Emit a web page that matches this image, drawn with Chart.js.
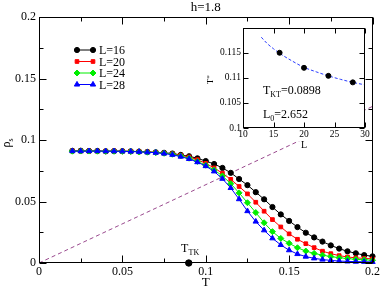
<!DOCTYPE html>
<html><head><meta charset="utf-8">
<script src="https://cdn.jsdelivr.net/npm/chart.js@4.4.1/dist/chart.umd.min.js"></script>
<style>
html,body{margin:0;padding:0;background:#fff;}
#wrap{position:relative;width:382px;height:288px;overflow:hidden;}
#main{position:absolute;left:0;top:0;}
#inset{position:absolute;left:200px;top:20px;}
</style></head><body>
<div id="wrap">
<canvas id="main" width="382" height="288"></canvas>
<canvas id="inset" width="172" height="132"></canvas>
</div>
<script>
// ---------- data (main panel) ----------
const temps = [0.02,0.025,0.03,0.035,0.04,0.045,0.05,0.055,0.06,0.065,0.07,0.075,0.08,0.085,0.09,0.095,0.1,0.105,0.11,0.115,0.12,0.125,0.13,0.135,0.14,0.145,0.15,0.155,0.16,0.165,0.17,0.175,0.18,0.185,0.19,0.195,0.2];
const rhoL16 = [0.0912,0.0913,0.0911,0.0911,0.0908,0.0910,0.0909,0.0908,0.0906,0.0903,0.0900,0.0896,0.0890,0.0879,0.0868,0.0851,0.0829,0.0805,0.0773,0.0733,0.0683,0.0633,0.0576,0.0518,0.0455,0.0395,0.0342,0.0292,0.0246,0.0208,0.0174,0.0143,0.0117,0.0095,0.0079,0.0064,0.0054];
const rhoL20 = [0.0911,0.0910,0.0911,0.0909,0.0910,0.0911,0.0909,0.0908,0.0905,0.0903,0.0899,0.0894,0.0887,0.0876,0.0862,0.0840,0.0810,0.0773,0.0730,0.0680,0.0622,0.0562,0.0494,0.0421,0.0353,0.0293,0.0237,0.0193,0.0157,0.0125,0.0096,0.0076,0.0060,0.0049,0.0042,0.0037,0.0034];
const rhoL24 = [0.0909,0.0910,0.0910,0.0909,0.0909,0.0908,0.0908,0.0907,0.0904,0.0901,0.0898,0.0892,0.0884,0.0870,0.0852,0.0826,0.0795,0.0757,0.0708,0.0645,0.0570,0.0490,0.0410,0.0327,0.0255,0.0200,0.0160,0.0124,0.0097,0.0078,0.0064,0.0052,0.0043,0.0036,0.0030,0.0026,0.0022];
const rhoL28 = [0.0910,0.0909,0.0910,0.0910,0.0909,0.0909,0.0908,0.0906,0.0904,0.0900,0.0897,0.0890,0.0880,0.0865,0.0846,0.0820,0.0788,0.0745,0.0685,0.0610,0.0519,0.0422,0.0337,0.0266,0.0201,0.0147,0.0104,0.0073,0.0052,0.0038,0.0028,0.0021,0.0016,0.0013,0.0011,0.0010,0.0009];
const seriesNames = ['L=16','L=20','L=24','L=28'];
const refLineT = [0, 0.2];
const refLineRho = [0, 0.1273];
const tktValue = [0.0898];
const tktRho = [0];
const xTickVals = [0,0.05,0.1,0.15,0.2];
const xTickLabels = ['0','0.05','0.1','0.15','0.2'];
const yTickVals = [0,0.05,0.1,0.15,0.2];
const yTickLabels = ['0','0.05','0.1','0.15','0.2'];

// ---------- data (inset) ----------
const sizesL = [16,20,24,28];
const tStar = [0.1150,0.1120,0.1104,0.1091];
const fitL = [13,14,15,16,18,20,22,24,26,28,30];
const fitT = [0.1181,0.1168,0.1158,0.1149,0.1134,0.1121,0.1112,0.1104,0.1097,0.1091,0.1086];
const insetXTickVals = [10,15,20,25,30];
const insetXTickLabels = ['10','15','20','25','30'];
const insetYTickVals = [0.1,0.105,0.11,0.115,0.12];
const insetYTickLabels = ['0.1','0.105','0.11','0.115',''];

const SERIF = "'Liberation Serif','DejaVu Serif','Times New Roman',serif";
const pts = (xs, ys) => xs.map((x, i) => ({x: x, y: ys[i]}));

function frameAndTicks(chart, xMaj, yMaj, minor, majLen, minLen) {
  const ctx = chart.ctx, ca = chart.chartArea;
  const xs = chart.scales.x, ys = chart.scales.y;
  const L = Math.round(ca.left) + 0.5, R = Math.round(ca.right) - 0.5;
  const T = Math.round(ca.top) + 0.5, B = Math.round(ca.bottom) - 0.5;
  ctx.save();
  ctx.strokeStyle = '#000'; ctx.lineWidth = 1;
  ctx.strokeRect(L, T, R - L, B - T);
  ctx.beginPath();
  const drawX = (v, len) => {
    const p = Math.round(xs.getPixelForValue(v)) + 0.5;
    ctx.moveTo(p, B); ctx.lineTo(p, B - len);
    ctx.moveTo(p, T); ctx.lineTo(p, T + len);
  };
  const drawY = (v, len) => {
    const p = Math.round(ys.getPixelForValue(v)) + 0.5;
    ctx.moveTo(L, p); ctx.lineTo(L + len, p);
    ctx.moveTo(R, p); ctx.lineTo(R - len, p);
  };
  xMaj.forEach(v => drawX(v, majLen));
  yMaj.forEach(v => drawY(v, majLen));
  if (minor) {
    for (let i = 0; i < xMaj.length - 1; i++) drawX((xMaj[i] + xMaj[i+1]) / 2, minLen);
    for (let i = 0; i < yMaj.length - 1; i++) drawY((yMaj[i] + yMaj[i+1]) / 2, minLen);
  }
  ctx.stroke();
  ctx.restore();
}

const mainDecor = {
  id: 'mainDecor',
  afterDraw(chart) {
    const ctx = chart.ctx, ca = chart.chartArea;
    frameAndTicks(chart, xTickVals, yTickVals, true, 7, 4);
    ctx.save();
    ctx.fillStyle = '#000';
    ctx.font = '13px ' + SERIF; ctx.textAlign = 'center'; ctx.textBaseline = 'alphabetic';
    ctx.fillText('h=1.8', (ca.left + ca.right) / 2, 11);
    ctx.fillText('T', (ca.left + ca.right) / 2, 286);
    ctx.save();
    ctx.translate(7, 144);
    ctx.rotate(-Math.PI / 2);
    ctx.textBaseline = 'middle';
    ctx.font = '12px ' + SERIF; ctx.textAlign = 'right';
    ctx.fillText('ρ', 2.5, 0);
    ctx.font = '8px ' + SERIF; ctx.textAlign = 'left';
    ctx.fillText('s', 2.5, 4);
    ctx.restore();
    ctx.textAlign = 'left'; ctx.textBaseline = 'alphabetic';
    ctx.font = '12px ' + SERIF;
    ctx.fillText('T', 181, 252);
    ctx.font = '8px ' + SERIF;
    ctx.fillText('TK', 188.5, 255);
    const rows = [50, 61.5, 73, 84.5];
    chart.data.datasets.slice(0, 4).forEach((ds, i) => {
      const y = rows[i];
      ctx.strokeStyle = ds.borderColor; ctx.fillStyle = ds.backgroundColor; ctx.lineWidth = 1;
      ctx.beginPath(); ctx.moveTo(77, y); ctx.lineTo(93, y); ctx.stroke();
      [77, 93].forEach(px => Chart.helpers.drawPoint(ctx, {pointStyle: ds.pointStyle, radius: ds.pointRadius, rotation: 0, borderWidth: 1}, px, y));
      ctx.fillStyle = '#000';
      ctx.font = '12px ' + SERIF;
      ctx.fillText(seriesNames[i], 99, y + 4);
    });
    ctx.restore();
  }
};

const colors = ['#000000', '#ff0000', '#00ee00', '#0000ff'];
const styles = ['circle', 'rect', 'rectRot', 'triangle'];
const radii = [2.6, 2.6, 3, 3.1];
const series = [rhoL16, rhoL20, rhoL24, rhoL28];

const mainDatasets = series.map((s, i) => ({
  label: seriesNames[i],
  data: pts(temps, s),
  borderColor: colors[i], backgroundColor: colors[i],
  borderWidth: 1, pointStyle: styles[i], pointRadius: radii[i],
  pointBorderWidth: 1, pointHoverRadius: radii[i], tension: 0,
  clip: false, order: 4 - i
}));
mainDatasets.push({
  label: 'ref', data: pts(refLineT, refLineRho),
  borderColor: '#9a4a8e', borderWidth: 1, borderDash: [4, 3],
  pointRadius: 0, order: 10
});
mainDatasets.push({
  label: 'tkt', data: pts(tktValue, tktRho), showLine: false,
  borderColor: '#000', backgroundColor: '#000', pointStyle: 'circle', pointRadius: 3.2,
  clip: false, order: 0
});

new Chart(document.getElementById('main'), {
  type: 'line',
  data: { datasets: mainDatasets },
  options: {
    responsive: false, animation: false, devicePixelRatio: 1,
    layout: { padding: { top: 17, right: 8, left: 0, bottom: 0 } },
    plugins: { legend: { display: false }, tooltip: { enabled: false } },
    scales: {
      x: {
        type: 'linear', min: 0, max: 0.2,
        grid: { display: false, drawTicks: false }, border: { display: false },
        afterBuildTicks: s => { s.ticks = xTickVals.map(v => ({ value: v })); },
        afterFit: s => { s.height = 25; },
        ticks: { callback: (v, i) => xTickLabels[i], color: '#000', padding: 2, autoSkip: false, maxRotation: 0,
          font: { family: SERIF, size: 12 } }
      },
      y: {
        type: 'linear', min: 0, max: 0.2,
        grid: { display: false, drawTicks: false }, border: { display: false },
        afterBuildTicks: s => { s.ticks = yTickVals.map(v => ({ value: v })); },
        afterFit: s => { s.width = 39; },
        ticks: { callback: (v, i) => yTickLabels[i], color: '#000', padding: 3, autoSkip: false,
          font: { family: SERIF, size: 12 } }
      }
    }
  },
  plugins: [mainDecor]
});

// ---------- inset ----------
const insetBg = {
  id: 'insetBg',
  beforeDraw(chart) {
    const ctx = chart.ctx, ca = chart.chartArea;
    ctx.save(); ctx.fillStyle = '#fff';
    ctx.fillRect(5, ca.top, ca.right - 5, 121 - ca.top);
    ctx.restore();
  },
  afterDraw(chart) {
    frameAndTicks(chart, insetXTickVals, insetYTickVals, false, 5, 0);
    const ctx = chart.ctx, ca = chart.chartArea;
    ctx.save(); ctx.fillStyle = '#000'; ctx.textBaseline = 'alphabetic';
    ctx.textAlign = 'left';
    ctx.font = '12px ' + SERIF;
    ctx.fillText('T', 63, 74);
    let w = ctx.measureText('T').width;
    ctx.font = '8px ' + SERIF;
    ctx.fillText('KT', 63 + w, 77);
    let w2 = ctx.measureText('KT').width;
    ctx.font = '12px ' + SERIF;
    ctx.fillText('=0.0898', 63 + w + w2, 74);
    ctx.fillText('L', 63, 98);
    w = ctx.measureText('L').width;
    ctx.font = '8px ' + SERIF;
    ctx.fillText('0', 63 + w, 101);
    w2 = ctx.measureText('0').width;
    ctx.font = '12px ' + SERIF;
    ctx.fillText('=2.652', 63 + w + w2, 98);
    ctx.font = '10px ' + SERIF; ctx.textAlign = 'center';
    ctx.fillText('L', (ca.left + ca.right) / 2, 128);
    ctx.save();
    ctx.translate(11, (ca.top + ca.bottom) / 2 + 2);
    ctx.rotate(-Math.PI / 2);
    ctx.textBaseline = 'middle';
    ctx.font = '9px ' + SERIF; ctx.textAlign = 'right';
    ctx.fillText('T', 1, 0);
    ctx.font = '7px ' + SERIF; ctx.textAlign = 'left';
    ctx.fillText('*', 1, -2);
    ctx.restore();
    ctx.restore();
  }
};

new Chart(document.getElementById('inset'), {
  type: 'line',
  data: {
    datasets: [
      { label: 'fit', data: pts(fitL, fitT), borderColor: '#2a3cff', borderWidth: 1, borderDash: [3, 2],
        pointRadius: 0, cubicInterpolationMode: 'monotone', order: 1 },
      { label: 'Tstar', data: pts(sizesL, tStar), showLine: false, borderColor: '#000', backgroundColor: '#000',
        pointStyle: 'circle', pointRadius: 2.5, order: 0 }
    ]
  },
  options: {
    responsive: false, animation: false, devicePixelRatio: 1,
    layout: { padding: { top: 5, right: 7, left: 0, bottom: 0 } },
    plugins: { legend: { display: false }, tooltip: { enabled: false } },
    scales: {
      x: {
        type: 'linear', min: 10, max: 30,
        grid: { display: false, drawTicks: false }, border: { display: false },
        afterBuildTicks: s => { s.ticks = insetXTickVals.map(v => ({ value: v })); },
        afterFit: s => { s.height = 24; },
        ticks: { callback: (v, i) => insetXTickLabels[i], color: '#000', padding: 1, autoSkip: false, maxRotation: 0,
          font: { family: SERIF, size: 9.5 } }
      },
      y: {
        type: 'linear', min: 0.1, max: 0.12,
        grid: { display: false, drawTicks: false }, border: { display: false },
        afterBuildTicks: s => { s.ticks = insetYTickVals.map(v => ({ value: v })); },
        afterFit: s => { s.width = 43; },
        ticks: { callback: (v, i) => insetYTickLabels[i], color: '#000', padding: 2, autoSkip: false,
          font: { family: SERIF, size: 9.5 } }
      }
    }
  },
  plugins: [insetBg]
});
</script>
</body></html>
